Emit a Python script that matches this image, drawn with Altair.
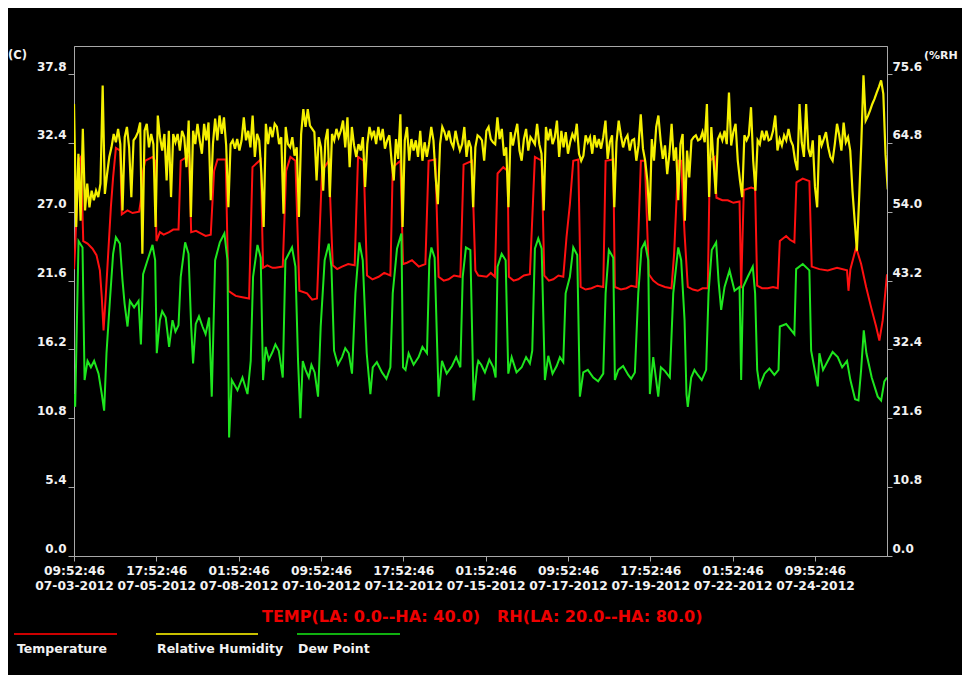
import altair as alt
import pandas as pd

# ---------------- data ----------------
# (hours since 07-03-2012 09:52:46, value)
temp_readings = [
    (0, 22.5), (0.8, 24.2), (3.1, 31.0), (4.7, 31.3), (6.3, 24.7), (9.2, 24.5), (12.6, 24.1), (15.3, 23.6), (17.6, 22.4),
    (18.9, 20.3), (20.1, 17.7), (21.7, 20.6), (23.5, 24.2), (25.1, 27.4), (26.6, 29.7), (28.5, 32.0), (31.4, 31.8),
    (32.5, 26.8), (36.4, 27.1), (39.8, 26.9), (44.3, 27.0), (45.5, 27.9), (47.0, 30.2), (48.4, 31.0), (53.4, 31.3),
    (55.2, 31.0), (56.1, 24.7), (58.4, 25.4), (61.0, 25.2), (64.7, 25.4), (67.5, 25.6), (71.1, 25.6), (72.6, 31.0),
    (78.3, 31.4), (79.7, 25.4), (83.0, 25.5), (86.2, 25.3), (89.5, 25.1), (93.0, 25.2), (95.3, 30.2), (97.6, 31.1),
    (103.2, 31.1), (105.0, 20.8), (107.5, 20.6), (110.0, 20.4), (114.5, 20.3), (119.1, 20.2), (121.4, 30.5),
    (127.0, 31.1), (128.6, 22.6), (131.5, 22.8), (135.0, 22.6),
    (137, 22.6), (142.0, 22.7), (144.3, 30.2), (147.2, 31.3), (150.6, 31.0), (153.3, 20.8), (158.5, 20.6),
    (162.0, 20.1), (165.3, 20.2), (168.7, 30.2), (173.3, 31.0), (176.0, 22.8), (179.0, 22.5), (182.3, 22.7),
    (186.5, 22.9), (190.9, 22.8), (193.2, 31.3), (197.0, 31.0), (199.3, 22.0), (203.0, 21.7), (207.2, 21.9),
    (211.0, 22.2), (215.2, 22.0), (216.8, 30.5), (222.0, 31.0), (223.8, 22.9), (226.5, 23.0), (229.9, 23.2),
    (234.5, 22.7), (239.0, 22.9), (241.2, 31.0), (245.8, 31.1), (248.0, 21.9), (251.5, 21.6), (254.8, 21.7),
    (258.5, 22.0), (262.8, 21.9), (265.0, 30.7), (270.7, 31.0), (273.0, 22.4),
    (275, 22.0), (280.7, 21.9), (283.5, 22.2), (286.3, 21.9), (288.1, 30.0), (292.0, 30.5), (295.0, 30.2),
    (295.8, 21.9), (299.0, 21.6), (302.2, 21.7), (306.0, 22.0), (310.1, 22.1), (313.5, 31.3), (318.1, 31.0),
    (319.9, 22.0), (323.0, 21.6), (326.0, 21.7), (329.5, 22.0), (332.8, 21.9), (335.0, 25.0), (337.3, 27.6),
    (339.6, 31.0), (343.0, 31.1), (344.6, 21.1), (348.0, 20.9), (352.0, 21.0), (356.0, 21.2), (360.0, 21.1),
    (361.6, 31.0), (366.8, 31.1), (367.9, 21.1), (372.0, 20.9), (375.8, 21.0), (379.0, 21.2), (382.6, 21.1),
    (385.6, 31.0), (388.3, 31.0), (391.0, 22.1), (394.0, 21.6), (397.4, 21.3), (402.0, 21.1), (406.4, 21.0),
    (408.2, 23.7), (411.0, 31.0),
    (413, 31.0), (415.3, 25.3), (417.5, 21.1), (421.0, 20.9), (424.3, 20.8), (427.5, 21.0), (431.1, 21.0),
    (432.5, 31.0), (435.7, 31.3), (437.0, 28.1), (441.0, 27.9), (444.7, 27.9), (448.5, 27.7), (452.7, 27.8),
    (453.8, 21.0), (455.6, 28.7), (460.6, 28.9), (463.3, 28.8), (464.7, 21.2), (468.0, 21.0), (471.9, 21.0),
    (475.5, 21.1), (478.7, 21.0), (480.1, 24.7), (484.4, 25.1), (487.0, 24.8), (490.0, 24.6), (491.4, 29.3),
    (495.7, 29.6), (500.2, 29.4), (501.8, 22.7), (507.0, 22.5), (512.7, 22.4), (519.0, 22.6), (525.8, 22.4),
    (526.8, 20.8), (528.1, 22.5), (532.0, 24.2), (535.4, 22.9), (538.8, 21.1), (542.2, 19.5), (545.6, 18.0),
    (547.8, 16.9), (550.1, 18.5), (553.0, 22.1),
]

dew_readings = [
    (0, 12.7), (0.8, 11.7), (3.1, 24.7), (5.8, 24.2), (7.2, 13.8), (9.2, 15.3), (11.5, 14.8), (13.7, 15.3), (16.7, 14.3),
    (18.9, 12.7), (20.5, 11.4), (22.1, 15.9), (24.4, 20.0), (26.6, 23.7), (28.5, 25.0), (31.2, 24.5), (33.0, 21.6),
    (34.4, 19.8), (36.4, 18.0), (38.0, 20.0), (40.9, 19.5), (43.9, 20.0), (45.5, 16.6), (47.0, 22.1), (50.0, 23.2),
    (53.4, 24.4), (55.2, 23.2), (56.3, 15.9), (58.4, 18.5), (60.0, 19.2), (62.4, 18.7), (64.7, 16.4), (67.0, 18.5),
    (69.0, 17.6), (71.1, 18.1), (72.6, 21.9), (75.6, 24.6), (77.9, 23.7), (79.7, 18.0), (81.0, 15.1), (82.8, 18.2),
    (85.0, 18.8), (87.4, 18.0), (89.5, 17.4), (91.9, 18.7), (93.7, 12.5), (96.0, 23.2), (99.2, 24.6), (102.3, 25.3),
    (104.4, 23.2), (105.5, 9.3), (107.3, 13.8), (111.2, 13.0), (114.6, 14.0), (118.0, 12.7), (120.2, 15.3),
    (121.8, 21.9), (124.8, 24.4), (127.0, 23.4), (128.6, 13.8), (130.4, 16.4), (132.5, 15.4), (135.0, 16.0),
    (137.0, 16.6),
    (139.3, 16.1), (142.0, 14.0), (143.8, 23.2), (148.3, 24.2), (150.6, 22.7), (152.4, 15.3), (154.0, 10.8),
    (155.6, 15.3), (157.5, 14.6), (159.7, 14.0), (161.5, 15.0), (163.7, 14.4), (166.0, 12.5), (167.8, 18.0),
    (170.5, 23.2), (173.3, 24.5), (175.1, 22.7), (176.9, 16.1), (179.5, 15.0), (182.3, 15.6), (184.5, 16.3),
    (186.9, 15.9), (189.1, 14.3), (191.4, 20.6), (194.1, 24.6), (196.4, 23.2), (199.1, 15.9), (201.6, 12.7),
    (203.2, 14.8), (206.0, 15.2), (209.5, 14.4), (212.5, 13.9), (215.2, 14.8), (216.8, 20.6), (219.7, 24.1),
    (222.7, 25.3), (223.8, 14.8), (225.5, 14.6), (227.6, 15.9), (231.0, 15.0), (234.4, 15.6), (237.0, 16.4),
    (240.1, 15.9), (241.7, 23.2), (243.1, 24.2), (245.3, 23.4), (248.0, 12.5), (250.3, 15.3), (253.5, 14.3),
    (257.1, 14.9), (260.0, 15.6), (262.8, 14.8), (264.4, 21.9), (266.6, 24.2), (269.6, 24.0), (271.8, 12.2),
    (274.1, 14.8),
    (275.0, 15.3), (277.0, 15.0), (279.5, 14.4), (282.5, 15.4), (285.2, 14.8), (286.8, 14.0), (288.1, 22.7),
    (290.9, 23.7), (293.6, 23.2), (295.4, 14.3), (297.7, 15.6), (301.0, 14.4), (304.5, 14.8), (307.5, 15.6),
    (310.1, 15.1), (311.7, 16.1), (313.5, 24.1), (315.8, 24.9), (318.1, 24.1), (320.3, 13.8), (322.6, 15.7),
    (325.5, 14.3), (328.3, 14.9), (330.5, 15.6), (332.8, 15.2), (334.4, 20.6), (337.3, 21.9), (339.6, 24.2),
    (342.3, 23.6), (344.1, 12.5), (346.4, 14.4), (349.5, 14.6), (353.2, 14.0), (356.5, 13.7), (360.0, 14.3),
    (361.6, 20.6), (363.8, 24.0), (366.8, 23.4), (367.9, 13.8), (370.2, 14.6), (373.5, 14.9), (377.0, 14.2),
    (379.0, 13.9), (381.5, 14.4), (383.8, 20.6), (386.0, 24.1), (388.3, 24.6), (390.6, 23.2), (391.7, 12.7),
    (394.0, 15.6), (397.4, 12.5), (399.2, 14.8), (402.0, 14.5), (405.3, 14.0), (407.6, 20.6), (411.0, 24.2),
    (413.0, 23.2), (415.3, 18.5), (416.6, 12.7), (417.5, 11.7), (419.8, 14.0), (422.0, 14.6), (424.3, 14.2),
    (427.0, 13.8), (430.0, 14.6), (431.6, 20.6), (433.8, 24.0), (436.8, 24.6), (438.4, 21.6), (440.2, 19.3),
    (442.5, 21.1), (445.9, 22.4), (449.3, 20.8), (452.7, 21.1), (453.8, 13.8), (455.1, 21.1), (458.3, 21.9),
    (461.7, 22.7), (463.3, 20.6), (464.7, 14.6), (466.3, 13.3), (469.7, 14.3), (473.0, 14.7), (476.4, 14.2),
    (479.2, 14.6), (480.1, 18.0), (484.4, 18.2), (490.0, 17.4), (491.2, 22.5), (495.7, 22.9), (500.2, 22.4),
    (501.4, 16.1), (505.9, 13.3), (507.0, 15.9), (509.5, 14.6), (512.7, 15.3), (516.0, 16.0), (519.5, 15.6),
    (522.5, 14.8), (525.8, 15.3), (528.1, 13.8), (531.3, 12.3), (533.6, 12.2), (535.4, 14.6), (537.2, 17.7),
    (539.0, 15.9), (542.6, 14.0), (546.7, 12.5), (549.0, 12.2), (551.2, 13.7), (553.0, 14.0),
]

# relative humidity, one reading every 1.5 hours from the start
rh_step = 1.5
rh_values = [70.9, 51.6, 63.1, 52.6, 67.0, 54.2, 58.4, 54.7, 57.3, 55.8,
             57.3, 56.3, 58.4, 73.8, 56.8, 59.9, 62.6, 64.1, 66.2, 64.9,
             67.0, 64.6, 54.2, 65.7, 67.3, 64.1, 56.3, 65.2, 65.7, 66.5,
             68.0, 47.4, 66.7, 67.8, 64.1, 66.2, 64.6, 51.6, 69.1, 65.7,
             63.6, 66.2, 58.9, 66.7, 56.3, 66.2, 64.9, 66.2, 63.6, 66.7,
             65.7, 61.0, 68.3, 53.2, 66.7, 64.6, 67.8, 65.2, 63.1, 67.8,
             65.2, 68.0, 55.8, 64.6, 68.6, 65.2, 69.1, 66.2, 68.8, 64.4,
             54.7, 64.6, 65.2, 63.9, 65.4, 63.6, 65.2, 68.8, 65.2, 66.7,
             64.1, 69.1, 62.6, 66.2, 65.2, 59.9, 51.6, 67.8, 64.6, 67.3,
             65.7, 67.8,
             67.3, 64.6, 65.7, 53.7, 67.3, 64.6, 64.1, 65.7, 62.8, 64.1,
             53.2, 66.2, 70.1, 67.3, 70.1, 67.5, 67.0, 66.5, 58.9, 65.7,
             64.1, 57.3, 65.2, 67.0, 56.3, 66.2, 65.2, 67.0, 65.7, 66.7,
             68.3, 64.1, 68.8, 61.0, 67.3, 64.4, 62.6, 64.6, 63.6, 65.7,
             57.9, 64.6, 67.3, 65.7, 66.7, 64.6, 67.3, 65.2, 67.0, 63.9,
             65.2, 66.0, 62.0, 58.9, 65.4, 62.3, 69.3, 51.6, 65.2, 67.3,
             62.0, 65.4, 63.6, 65.2, 62.6, 66.7, 62.0, 64.9, 62.6, 64.6,
             67.3, 65.2, 59.4, 55.2, 64.6, 67.3, 66.5, 65.2, 66.7, 64.9,
             64.1, 66.7, 64.9, 63.6, 64.6, 67.3, 62.6, 65.2, 64.1, 54.7,
             64.1, 66.0,
             65.7, 65.2, 62.0, 66.7, 67.3, 65.4, 64.9, 64.6, 68.8, 65.4,
             67.0, 62.8, 64.1, 54.7, 66.5, 64.4, 66.2, 67.8, 63.6, 62.0,
             65.4, 67.0, 63.6, 65.7, 65.2, 64.6, 67.8, 64.6, 63.1, 54.2,
             67.3, 65.2, 67.0, 64.6, 65.7, 68.3, 62.6, 66.7, 64.1, 66.5,
             63.1, 64.9, 66.2, 65.4, 67.8, 63.1, 62.0, 62.8, 66.0, 64.9,
             65.7, 63.1, 66.0, 64.1, 65.4, 63.9, 65.7, 68.3, 62.3, 64.9,
             66.0, 54.7, 64.9, 68.3, 66.0, 64.1, 65.4, 66.0, 63.6, 65.2,
             65.4, 62.0, 64.4, 69.3, 63.9, 62.0, 58.9, 52.6, 65.4, 62.0,
             67.3, 69.1, 65.2, 62.3, 64.4, 59.9, 63.1, 67.8, 62.0, 64.1,
             55.8, 64.6,
             66.2, 52.6, 63.6, 59.4, 65.2, 65.7, 66.0, 65.2, 65.4, 66.5,
             64.9, 70.9, 56.3, 67.3, 62.0, 56.8, 65.4, 66.2, 65.2, 66.7,
             64.6, 72.7, 64.4, 66.5, 67.8, 62.0, 58.9, 56.3, 66.0, 65.2,
             66.0, 70.4, 62.0, 57.3, 65.2, 64.6, 66.7, 65.2, 66.7, 65.2,
             65.4, 66.7, 69.1, 63.6, 65.4, 64.4, 66.0, 65.2, 67.0, 65.2,
             64.4, 62.0, 60.5, 70.9, 64.9, 62.6, 70.9, 63.9, 62.6, 65.2,
             57.9, 54.7, 66.0, 64.4, 65.4, 66.5, 64.1, 62.6, 62.0, 64.6,
             67.8, 66.0, 63.6, 68.0, 64.9, 65.7, 63.6, 57.3, 52.6, 47.9,
             55.8, 64.6, 75.4, 68.3, 69.0, 69.9, 70.9, 71.7, 72.7, 73.6,
             74.6, 72.5, 63.0, 57.5]
rh_hours = [round(i * rh_step, 2) for i in range(len(rh_values))]

tick_hours = [0, 56, 112, 168, 224, 280, 336, 392, 448, 504]
left_ticks = [0.0, 5.4, 10.8, 16.2, 21.6, 27.0, 32.4, 37.8]
right_ticks = [0.0, 10.8, 21.6, 32.4, 43.2, 54.0, 64.8, 75.6]

temp_df = pd.DataFrame(temp_readings, columns=["h", "temp"])
dew_df = pd.DataFrame(dew_readings, columns=["h", "temp"])
rh_df = pd.DataFrame({"h": rh_hours, "rh": rh_values})

FONT = "DejaVu Sans"
AXIS_GRAY = "#a8a8a8"
LABEL = "#f2f2f2"

start = "time(datetime(2012, 6, 3, 9, 52, 46)) + datum.value * 3600000"
label_expr = f"[timeFormat({start}, '%H:%M:%S'), timeFormat({start}, '%m-%d-%Y')]"

xscale = alt.Scale(domain=[0, 553], nice=False, zero=False)
xaxis = alt.Axis(values=tick_hours, labelExpr=label_expr, title=None, labelFlush=False,
                 labelOverlap=False, labelBound=False, tickSize=5, labelPadding=3,
                 labelLineHeight=15, labelFontSize=12.3)
yl_scale = alt.Scale(domain=[0, 40], nice=False)
yl_axis = alt.Axis(values=left_ticks, format=".1f", title=None, orient="left", tickSize=6,
                   labelPadding=2, labelOffset=-8, labelOverlap=False, labelFlush=False)
yr_scale = alt.Scale(domain=[0, 80], nice=False)
yr_axis = alt.Axis(values=right_ticks, format=".1f", title=None, orient="right", tickSize=5,
                   labelPadding=0, labelOffset=-8, labelOverlap=False, labelFlush=False)

temp_line = alt.Chart(temp_df).mark_line(color="#ff1010", strokeWidth=2, clip=True).encode(
    x=alt.X("h:Q", scale=xscale, axis=xaxis),
    y=alt.Y("temp:Q", scale=yl_scale, axis=yl_axis),
)
dew_line = alt.Chart(dew_df).mark_line(color="#1ee61e", strokeWidth=2, clip=True).encode(
    x=alt.X("h:Q", scale=xscale, axis=xaxis),
    y=alt.Y("temp:Q", scale=yl_scale, axis=yl_axis),
)
rh_line = alt.Chart(rh_df).mark_line(color="#f5f000", strokeWidth=2.2, clip=True).encode(
    x=alt.X("h:Q", scale=xscale, axis=xaxis),
    y=alt.Y("rh:Q", scale=yr_scale, axis=yr_axis),
)


def label(text, x, y, color=LABEL, size=12, align="left"):
    return alt.Chart(pd.DataFrame({"t": [text]})).mark_text(
        font=FONT, fontWeight="bold", fontSize=size, color=color, align=align, baseline="middle"
    ).encode(text="t:N", x=alt.value(x), y=alt.value(y))


def swatch(color, x1, x2, y):
    return alt.Chart(pd.DataFrame({"t": [0]})).mark_rule(color=color, strokeWidth=2).encode(
        x=alt.value(x1), x2=alt.value(x2), y=alt.value(y))


series_names = ["Temperature", "Relative Humidity", "Dew Point"]
legend_colors = ["#cc0000", "#c8c000", "#10b010"]
title_parts = ["TEMP(LA: 0.0--HA: 40.0)", "RH(LA: 20.0--HA: 80.0)"]

extras = [
    label("(C)", -66, 10, size=11.5),
    label("(%RH", 850, 10, size=11),
    label(title_parts[0], 188, 571, color="#ee0000", size=16),
    label(title_parts[1], 423, 571, color="#ee0000", size=16),
    swatch(legend_colors[0], -60, 43, 588),
    swatch(legend_colors[1], 82, 184, 588),
    swatch(legend_colors[2], 223, 326, 588),
    label(series_names[0], -57, 603, size=12.5),
    label(series_names[1], 83, 603, size=12.5),
    label(series_names[2], 224, 603, size=12.5),
]

chart = alt.layer(
    alt.layer(temp_line, dew_line), rh_line, *extras
).resolve_scale(y="independent").properties(
    width=813, height=510,
    padding={"left": 66, "top": 38, "right": 75, "bottom": 119},
    autosize=alt.AutoSizeParams(type="none"),
    background="black",
).configure_view(
    stroke=AXIS_GRAY, strokeWidth=1
).configure_axis(
    grid=False, domainColor=AXIS_GRAY, tickColor=AXIS_GRAY, labelColor=LABEL,
    labelFont=FONT, labelFontWeight="bold", labelFontSize=12
)

chart.save("out.html", embed_options={"renderer": "svg", "actions": False})
